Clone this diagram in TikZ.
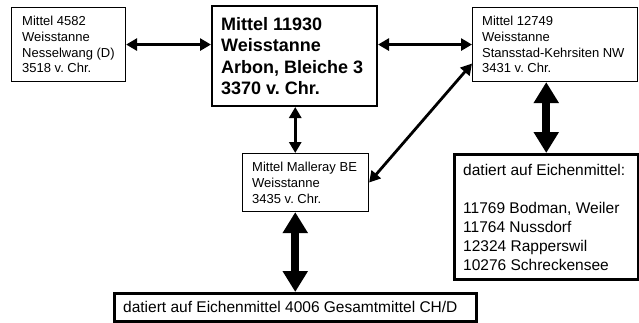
\documentclass[tikz,border=0pt]{standalone}
\usepackage{fontspec}
\setmainfont{Liberation Sans}
\usetikzlibrary{arrows.meta}
\frenchspacing
\tikzset{
  box/.style={draw=black, rectangle, anchor=north west, inner sep=0pt, line width=1.1pt},
  bigbox/.style={box, line width=2pt},
  datbox/.style={box, line width=2.5pt},
  txt/.style={anchor=west, align=left, inner sep=0pt, font=\fontsize{13}{15.8}\selectfont},
  bigtxt/.style={txt, font=\fontsize{18}{21.5}\selectfont\bfseries},
  dattxt/.style={txt, font=\fontsize{15.5}{19}\selectfont},
  thinarrow/.style={line width=2.8pt, {Triangle[length=11pt,width=12pt]}-{Triangle[length=11pt,width=12pt]}},
  fatarrow/.style={line width=8pt, {Triangle[length=21pt,width=24pt]}-{Triangle[length=21pt,width=24pt]}}
}
\begin{document}
\begin{tikzpicture}[x=1pt,y=-1pt]
\useasboundingbox (0,0) rectangle (639,322);
% boxes
\node[box, minimum width=114pt, minimum height=74pt] (A) at (11,7) {};
\node[bigbox, minimum width=165pt, minimum height=100pt] (B) at (211,5) {};
\node[box, minimum width=165pt, minimum height=74pt] (C) at (472,7) {};
\node[box, minimum width=126pt, minimum height=58pt] (D) at (242,153) {};
\node[datbox, minimum width=184pt, minimum height=125pt] (E) at (453,153) {};
\node[datbox, minimum width=362pt, minimum height=28pt] (F) at (113,292) {};
% texts
\node[txt] (At) at ([xshift=11pt]A.west) {Mittel 4582\\Weisstanne\\Nesselwang (D)\\3518 v. Chr.};
\node[bigtxt] (Bt) at ([xshift=10pt]B.west) {Mittel 11930\\Weisstanne\\Arbon, Bleiche 3\\3370 v. Chr.};
\node[txt] (Ct) at ([xshift=10pt]C.west) {Mittel 12749\\Weisstanne\\Stansstad-Kehrsiten NW\\3431 v. Chr.};
\node[txt] (Dt) at ([xshift=10pt]D.west) {Mittel Malleray BE\\Weisstanne\\3435 v. Chr.};
\node[dattxt] (Et) at ([xshift=10pt,yshift=-1pt]E.west) {datiert auf Eichenmittel:\\[19pt]11769 Bodman, Weiler\\11764 Nussdorf\\12324 Rapperswil\\10276 Schreckensee};
\node[dattxt] (Ft) at ([xshift=10pt]F.west) {datiert auf Eichenmittel 4006 Gesamtmittel CH/D};
% connectors
\draw[thinarrow] (A.east) -- (A.east -| B.west);
\draw[thinarrow] (C.west -| B.east) -- (C.west);
\draw[thinarrow] (B.south -| F.north) -- (D.north -| F.north);
\draw[thinarrow] ([yshift=-19pt]C.west) -- (D.east);
\draw[fatarrow] (C.south -| E.north) -- (E.north);
\draw[fatarrow] (D.south -| F.north) -- (F.north);
\end{tikzpicture}
\end{document}
